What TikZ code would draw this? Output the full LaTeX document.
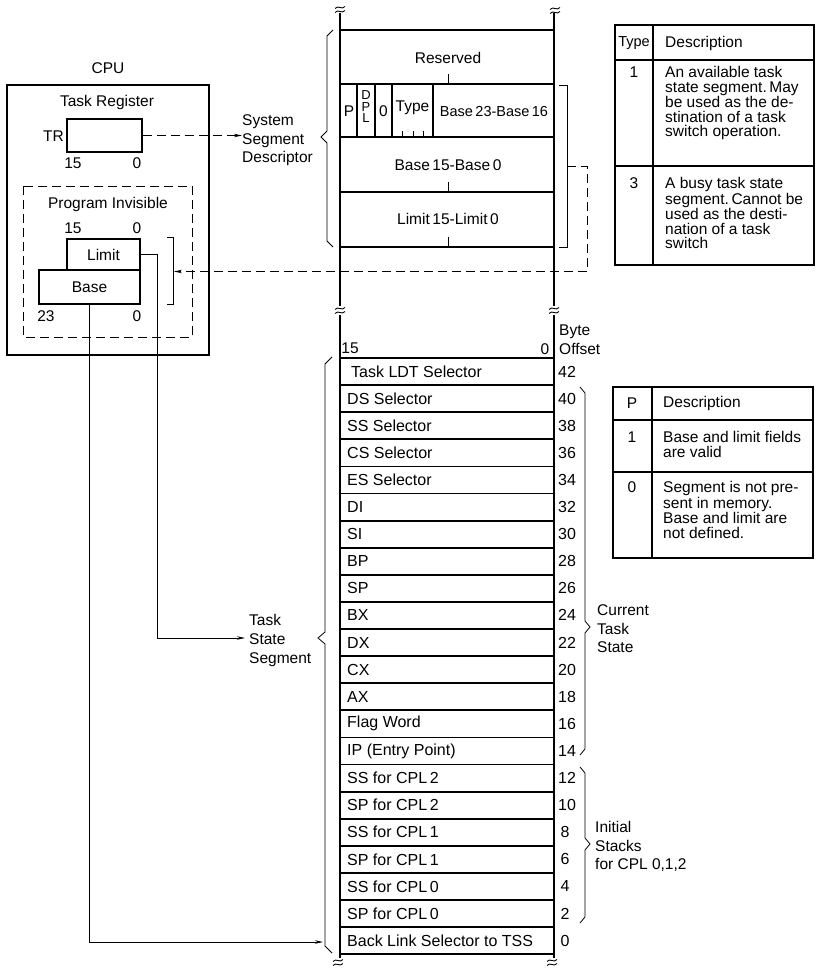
\documentclass[tikz,border=0pt]{standalone}
\usepackage{fontspec}
\setmainfont{Liberation Sans}
\usetikzlibrary{arrows.meta}
\begin{document}
\begin{tikzpicture}[x=1pt,y=-1pt,
  every node/.style={inner sep=0pt, font=\fontsize{15.5}{15.5}\selectfont},
  txt/.style={anchor=west, align=left},
  blk/.style={anchor=north west, align=left, font=\fontsize{15.5}{#1}\selectfont},
  rowtxt/.style={anchor=west, font=\fontsize{16}{16}\selectfont},
  small/.style={font=\fontsize{13}{13}\selectfont},
  heavy/.style={line width=2.4pt},
  frame/.style={line width=1.8pt},
  boxd/.style={draw, line width=1.5pt},
  thinl/.style={line width=0.8pt},
  dashl/.style={line width=0.9pt, dash pattern=on 9pt off 5pt},
  arr/.style={-{Stealth[length=8pt,width=3.5pt]}},
  brk/.pic={
    \draw[line width=0.9pt] (-5,-1.5) .. controls (-2,-5.5) and (2,0.5) .. (5,-3.5);
    \draw[line width=0.9pt] (-5,2.5) .. controls (-2,-1.5) and (2,4.5) .. (5,0.5);
  }
]
\useasboundingbox (0,0) rectangle (816,973);

% ================= CPU =================
\node (cpu) at (108,68) {CPU};
\draw[frame] (7,85) rectangle (209,355);
\node (treg) at (107,102) {Task Register};
\node[boxd, minimum width=75, minimum height=33] (tr) at (104.5,135.5) {};
\node[anchor=east] (trl) at (64,136) {TR};
\node (tr15) at (73,163) {15};
\node (tr0) at (137,163) {0};
\draw[dashl] (23,186) rectangle (192,337);
\node (pinv) at (108,204) {Program Invisible};
\node (pi15) at (73,228) {15};
\node (pi0) at (137,228) {0};
\node[boxd, minimum width=73, minimum height=31] (limit) at (103.5,254.5) {Limit};
\node[boxd, minimum width=101, minimum height=34] (base) at (89.5,287) {Base};
\node (b23) at (46,316) {23};
\node (b0) at (137,316) {0};
\draw[thinl] (167,237) -- (173,237) -- (173,304) -- (167,304);
\coordinate (cbm) at (174,271.5);

% ================= memory column =================
\draw[heavy] (340,13) -- (340,306);
\draw[heavy] (554,13) -- (554,306);
\draw[heavy] (340,315) -- (340,958);
\draw[heavy] (554,315) -- (554,958);
\pic at (340,10) {brk};
\pic at (555,11) {brk};
\pic at (340,311) {brk};
\pic at (554,311) {brk};
\pic at (338,963) {brk};
\pic at (552,963) {brk};

% descriptor
\foreach \yy in {30,84,137,192,247} \draw[frame] (340,\yy) -- (554,\yy);
\foreach \xx in {357,375,392,433} \draw[frame] (\xx,84) -- (\xx,137);
\foreach \yy in {84,192,247} \draw[thinl] (448,\yy-10) -- (448,\yy);
\foreach \xx in {402,413,423} \draw[thinl] (\xx,131) -- (\xx,137);
\node (res) at (448,58) {Reserved};
\node (pf) at (349,111) {P};
\node[small] (dplD) at (366,95.5) {D};
\node[small] (dplP) at (366,107) {P};
\node[small] (dplL) at (366,118.5) {L};
\node (zf) at (383.5,111) {0};
\node (typef) at (412.5,108) {Type};
\node[font=\fontsize{14.5}{14.5}\selectfont] (bhi) at (494,112) {Base\,23-Base\,16};
\node (blo) at (448,165) {Base\,15-Base\,0};
\node (lmt) at (448,219) {Limit\,15-Limit\,0};
% descriptor brace & bracket
\draw[thinl] (333,30) -- (327,36) -- (327,131) -- (321,137) -- (327,143) -- (327,241) -- (333,247);
\draw[thinl] (559,85) -- (567,85) -- (567,247) -- (559,247);
\coordinate (dbm) at (567,166);
\node[blk=18.5] (ssd) at (242,114.5) {System\\Segment\\Descriptor};

% connectors CPU <-> descriptor
\draw[dashl, arr] (tr.east) -- (tr.east -| ssd.west);
\draw[dashl, arr] (dbm) -- (587,166) |- (cbm);

% ================= TSS =================
\node (h15) at (350,348) {15};
\node (h0) at (545,349) {0};
\node[blk=19] (bo) at (559,324.5) {Byte\\Offset};
\foreach \i in {0,...,22} \draw[frame] (340,{358+27.1*\i}) -- (554,{358+27.1*\i});
\foreach \t/\o [count=\i from 0] in {Task LDT Selector/42, DS Selector/40, SS Selector/38, CS Selector/36, ES Selector/34, DI/32, SI/30, BP/28, SP/26, BX/24, DX/22, CX/20, AX/18, Flag Word/16, IP (Entry Point)/14, SS for CPL\,2/12, SP for CPL\,2/10, SS for CPL\,1/8, SP for CPL\,1/6, SS for CPL\,0/4, SP for CPL\,0/2, Back Link Selector to TSS/0} {
  \pgfmathsetmacro\yc{358+27.1*\i+13.5}
  \ifnum\o=42
    \node[rowtxt] (row\o) at (351,\yc) {\t};
  \else
    \node[rowtxt] (row\o) at (347,\yc) {\t};
  \fi
  \ifnum\o<10
    \node[font=\fontsize{16}{16}\selectfont] (off\o) at (565,\yc) {\o};
  \else
    \node[rowtxt] (off\o) at (558,\yc) {\o};
  \fi
}
% braces
\draw[thinl] (332,357) -- (325,364) -- (325,632) -- (318,638) -- (325,644) -- (325,946) -- (332,953);
\draw[thinl] (580,387) -- (585,393) -- (585,621) -- (590,627) -- (585,633) -- (585,749) -- (580,755);
\draw[thinl] (580,767) -- (585,773) -- (585,838) -- (590,844) -- (585,850) -- (585,917) -- (580,923);
\node[blk=19] (tss) at (249,614.5) {Task\\State\\Segment};
\node[blk=18.5] (cts) at (597,604.5) {Current\\Task\\State};
\node[blk=18.5] (ist) at (595,821.5) {Initial\\Stacks\\for CPL 0,1,2};

% connectors CPU -> TSS
\coordinate (lx) at (157,0);
\coordinate (tsin) at (245,638);
\coordinate (bl) at (323,942);
\draw[thinl, arr] (limit.east) -- (limit.east -| lx) |- (tsin);
\draw[thinl, arr] (base.south) |- (bl);

% ================= Type table =================
\draw[line width=2pt] (615,25) rectangle (814,265);
\draw[frame] (615,60) -- (814,60);
\draw[frame] (615,166) -- (814,166);
\draw[frame] (653,25) -- (653,265);
\node[font=\fontsize{14.5}{14.5}\selectfont] (tyh) at (634,43) {Type};
\node[txt] (tyd) at (665,43) {Description};
\node (ty1) at (634,72) {1};
\node[blk=14.4] (ty1d) at (665,66.5) {An available task\\state segment.\,May\\be used as the de-\\stination of a task\\switch operation.};
\node (ty3) at (634,183) {3};
\node[blk=14.4] (ty3d) at (665,177.5) {A busy task state\\segment.\,Cannot be\\used as the desti-\\nation of a task\\switch};

% ================= P table =================
\draw[line width=2pt] (613,387) rectangle (813,558);
\draw[frame] (613,420) -- (813,420);
\draw[frame] (613,472) -- (813,472);
\draw[frame] (652,387) -- (652,558);
\node (ph) at (632,403) {P};
\node[txt] (pd) at (663,403) {Description};
\node (p1) at (632,437) {1};
\node[blk=14.4] (p1d) at (663,431.5) {Base and limit fields\\are valid};
\node (p0) at (632,487) {0};
\node[blk=14.4] (p0d) at (663,481.5) {Segment is not pre-\\sent in memory.\\Base and limit are\\not defined.};
\end{tikzpicture}
\end{document}
